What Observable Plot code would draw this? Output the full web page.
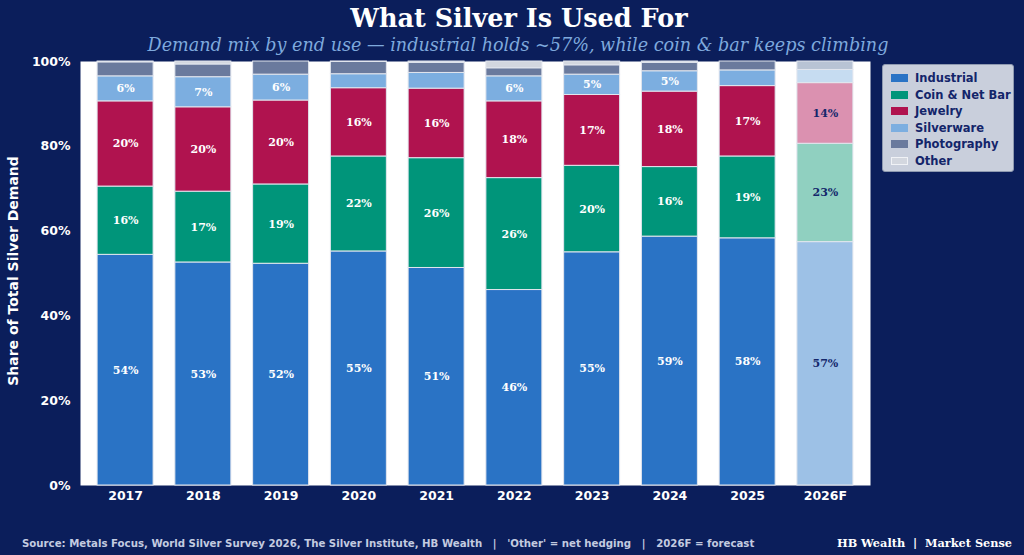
<!DOCTYPE html>
<html><head><meta charset="utf-8">
<script src="https://cdn.jsdelivr.net/npm/d3@7"></script>
<script src="https://cdn.jsdelivr.net/npm/@observablehq/plot@0.6"></script>
<style>
html,body{margin:0;padding:0;background:#0b1e5b;}
#wrap{position:relative;width:1024px;height:555px;overflow:hidden;background:#0b1e5b;}
#title{position:absolute;top:3px;left:0;width:1038px;text-align:center;font:bold 25.5px "DejaVu Serif";color:#fff;}
#subtitle{position:absolute;top:35px;left:0;width:1036px;text-align:center;font:italic 17.6px "DejaVu Serif";color:#7ea9dd;}
#chart{position:absolute;top:50px;left:0;}
#ylabel{position:absolute;left:13px;top:271px;transform:translate(-50%,-50%) rotate(-90deg);white-space:nowrap;font:bold 14px "DejaVu Sans";color:#fff;}
#legend{position:absolute;left:882px;top:64px;width:132px;height:108px;box-sizing:border-box;background:#c9cfdc;border:1px solid #8e99b0;border-radius:3px;padding:5px 0 0 8px;}
.li{display:flex;align-items:center;height:16.5px;font:bold 11.5px "DejaVu Sans";color:#13256a;}
.sw{width:17px;height:8px;margin-right:7px;box-sizing:border-box;}
#caption{position:absolute;left:22px;top:538px;font:bold 10.2px "DejaVu Sans";color:#c3cbe0;white-space:pre;}
#brand{position:absolute;right:12px;top:536px;font:bold 11.3px "DejaVu Serif";color:#fff;white-space:pre;}
</style></head>
<body>
<div id="wrap">
  <div id="title">What Silver Is Used For</div>
  <div id="subtitle">Demand mix by end use — industrial holds ~57%, while coin &amp; bar keeps climbing</div>
  <div id="chart"></div>
  <div id="ylabel">Share of Total Silver Demand</div>
  <div id="legend"></div>
  <div id="caption">Source: Metals Focus, World Silver Survey 2026, The Silver Institute, HB Wealth   |   'Other' = net hedging   |   2026F = forecast</div>
  <div id="brand">HB Wealth  |  Market Sense</div>
</div>
<script>
// ---- data ----
const years = ["2017","2018","2019","2020","2021","2022","2023","2024","2025","2026F"];
const categories = ["Industrial","Coin & Net Bar","Jewelry","Silverware","Photography","Other"];
const industrial  = [54.4,52.6,52.3,55.2,51.3,46.1,55.0,58.7,58.3,57.4];
const coinBar     = [16.1,16.7,18.7,22.4,25.9,26.4,20.4,16.4,19.3,23.2];
const jewelry     = [20.1,19.9,19.8,16.1,16.4,18.1,16.7,17.8,16.6,14.3];
const silverware  = [5.9,7.1,6.1,3.3,3.7,5.9,4.8,4.8,3.7,3.1];
const photography = [3.3,3.0,3.1,2.9,2.4,1.9,2.2,2.0,2.1,2.0];
const other       = [0.2,0.7,0.0,0.1,0.3,1.6,0.9,0.3,0.0,0.0];
const yTicks = [0,20,40,60,80,100];
const forecastYear = "2026F";

// ---- styles ----
const palette = {"Industrial":"#2a73c5","Coin & Net Bar":"#00957a","Jewelry":"#b0134f","Silverware":"#7caee0","Photography":"#6a7a9d","Other":"#d3d7df"};
const forecastPalette = {"Industrial":"#9dc1e6","Coin & Net Bar":"#90d0c0","Jewelry":"#db91b0","Silverware":"#c6dcf1","Photography":"#b8c3d4","Other":"#e3e6ec"};

const series = [industrial, coinBar, jewelry, silverware, photography, other];
const rows = [];
years.forEach((year, i) => {
  categories.forEach((category, j) => {
    rows.push({year, category, value: series[j][i]});
  });
});
const colorOf = d => (d.year === forecastYear ? forecastPalette : palette)[d.category];

const chart = Plot.plot({
  width: 1024,
  height: 465,
  marginTop: 11,
  marginBottom: 30,
  marginLeft: 80,
  marginRight: 154,
  style: {background: "transparent", color: "#ffffff", fontFamily: "DejaVu Sans", fontWeight: "bold", fontSize: "12px", overflow: "visible"},
  x: {domain: years, paddingInner: 0.28, paddingOuter: 0.22, round: false, label: null},
  y: {domain: [0, 100], label: null},
  color: {type: "identity"},
  marks: [
    Plot.frame({fill: "#ffffff", stroke: null}),
    Plot.barY(rows, {x: "year", y: "value", fill: colorOf, stroke: "#e2e6ee", strokeWidth: 1}),
    Plot.text(rows, Plot.stackY({
      x: "year", y: "value",
      text: d => d.value >= 4.5 ? Math.round(d.value) + "%" : "",
      fill: d => d.year === forecastYear ? "#14276b" : "#ffffff",
      fontFamily: "DejaVu Serif", fontWeight: "bold", fontSize: 11
    })),
    Plot.axisY({ticks: yTicks, tickFormat: d => d + "%", tickSize: 0, tickPadding: 10, fontSize: 12.5, label: null}),
    Plot.axisX({tickSize: 0, tickPadding: 6, fontSize: 12.5, label: null})
  ]
});
document.getElementById("chart").appendChild(chart);

const legend = document.getElementById("legend");
categories.forEach(c => {
  const row = document.createElement("div");
  row.className = "li";
  const sw = document.createElement("span");
  sw.className = "sw";
  sw.style.background = palette[c];
  if (c === "Other") sw.style.border = "1px solid #f0f2f6";
  const t = document.createElement("span");
  t.textContent = c;
  row.appendChild(sw); row.appendChild(t);
  legend.appendChild(row);
});
</script>
</body></html>
